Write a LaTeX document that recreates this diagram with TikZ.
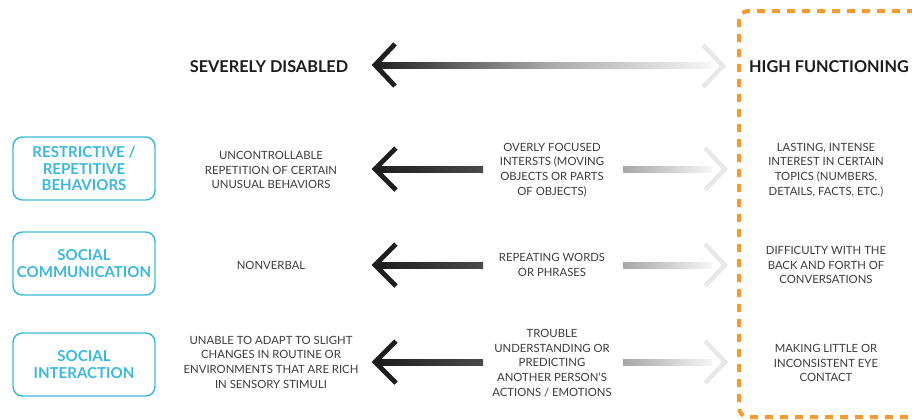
\documentclass[tikz,border=0pt]{standalone}
\usepackage{fontspec}
\setmainfont{Lato}
\usetikzlibrary{calc}
\definecolor{bodygray}{HTML}{3C3C3C}
\definecolor{hdrgray}{HTML}{1C1C1C}
\definecolor{catblue}{HTML}{3DB8DC}
\definecolor{dashorange}{HTML}{F39B30}
\definecolor{shaftdark}{HTML}{1E1E1E}
\definecolor{shaftmid}{HTML}{4A4A4A}
\definecolor{fadegray}{HTML}{A6A6A6}
\definecolor{fadelight}{HTML}{F6F6F6}
\definecolor{chevlight}{HTML}{E8E8E8}
\tikzset{
  txt/.style={align=center, text=bodygray, font=\fontsize{8.5}{11}\selectfont, inner sep=0pt},
  hdr/.style={text=hdrgray, font=\bfseries\fontsize{12.2}{14}\selectfont, inner sep=0pt},
  catbox/.style={draw=catblue, line width=1.1pt, rounded corners=7pt, minimum width=106.5pt,
    minimum height=47.25pt, align=center, text=catblue, inner sep=0pt,
    font=\bfseries\fontsize{11.3}{12.2}\selectfont},
  darkchev/.style={draw=shaftdark, line width=3.6pt, line join=miter},
  lightchev/.style={draw=chevlight, line width=3.4pt, line join=miter},
  orangedash/.style={draw=dashorange, line width=3pt, dash pattern=on 6pt off 5.25pt, rounded corners=7pt},
}
\begin{document}
\begin{tikzpicture}[x=0.75pt,y=-0.75pt]
\useasboundingbox (0,0) rectangle (912,419);
% orange dashed frame
\draw[orangedash] (930,11) -- (739,11) -- (739,417) -- (930,417);
% headers
\node[hdr] (sev) at (269,67) {SEVERELY DISABLED};
\node[hdr] (high) at (829,67) {HIGH FUNCTIONING};
% top arrow
\coordinate (tL) at (375,65);
\coordinate (tR) at (712,65);
\shade[left color=shaftdark, right color=fadelight, middle color=gray!70] ($(tL)+(0,-3)$) rectangle ($(tR)+(0,3)$);
\draw[darkchev] ($(tL)+(20,-21)$) -- (tL) -- ($(tL)+(20,21)$);
\draw[lightchev] (703,45) -- (723,66) -- (703,87);
% category boxes
\node[catbox] (b1) at (84,168.5) {RESTRICTIVE /\\REPETITIVE\\BEHAVIORS};
\node[catbox] (b2) at (84,263.5) {SOCIAL\\COMMUNICATION};
\node[catbox] (b3) at (84,364.5) {SOCIAL\\INTERACTION};
% left column
\node[txt] (l1) at (271,170) {UNCONTROLLABLE\\REPETITION OF CERTAIN\\UNUSUAL BEHAVIORS};
\node[txt] (l2) at (271,265) {NONVERBAL};
\node[txt] (l3) at (271,362) {UNABLE TO ADAPT TO SLIGHT\\CHANGES IN ROUTINE OR\\ENVIRONMENTS THAT ARE RICH\\IN SENSORY STIMULI};
% middle column
\node[txt] (m1) at (552,170) {OVERLY FOCUSED\\INTERSTS (MOVING\\OBJECTS OR PARTS\\OF OBJECTS)};
\node[txt] (m2) at (552,265) {REPEATING WORDS\\OR PHRASES};
\node[txt] (m3) at (552,363) {TROUBLE\\UNDERSTANDING OR\\PREDICTING\\ANOTHER PERSON'S\\ACTIONS / EMOTIONS};
% right column
\node[txt] (r1) at (826,170) {LASTING, INTENSE\\INTEREST IN CERTAIN\\TOPICS (NUMBERS,\\DETAILS, FACTS, ETC.)};
\node[txt] (r2) at (826,265) {DIFFICULTY WITH THE\\BACK AND FORTH OF\\CONVERSATIONS};
\node[txt] (r3) at (826,363) {MAKING LITTLE OR\\INCONSISTENT EYE\\CONTACT};
% row arrows
\foreach \yy/\nm in {169/one,265/two,362/three}{
  \coordinate (L\nm) at (375,\yy);
  \coordinate (Le\nm) at (483,\yy);
  \coordinate (R\nm) at (623,\yy);
  \coordinate (Re\nm) at (712,\yy);
  \coordinate (Rt\nm) at (725,\yy);
  \shade[left color=shaftdark, right color=shaftmid] ($(L\nm)+(2,-3)$) rectangle ($(Le\nm)+(0,3)$);
  \draw[darkchev] ($(L\nm)+(21,-21)$) -- (L\nm) -- ($(L\nm)+(21,21)$);
  \shade[left color=fadegray, right color=fadelight] ($(R\nm)+(0,-3)$) rectangle ($(Re\nm)+(0,3)$);
  \draw[lightchev] ($(Rt\nm)+(-20,-21)$) -- (Rt\nm) -- ($(Rt\nm)+(-20,21)$);
}
\end{tikzpicture}
\end{document}
